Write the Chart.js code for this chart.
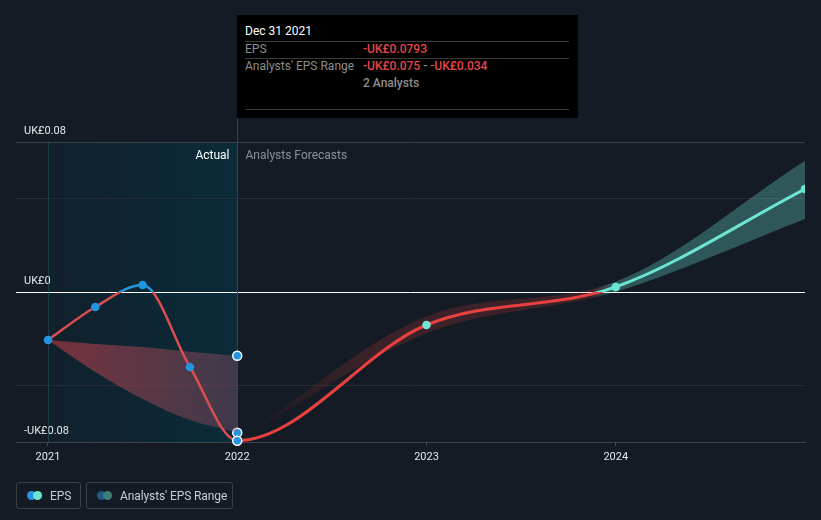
<!DOCTYPE html>
<html>
<head>
<meta charset="utf-8">
<script src="https://cdn.jsdelivr.net/npm/chart.js@4/dist/chart.umd.min.js"></script>
<style>
html,body{margin:0;padding:0;background:#151b24;}
#wrap{position:relative;width:821px;height:520px;overflow:hidden;font-family:Roboto,"Noto Sans",sans-serif;background:#151b24;}
#chart{position:absolute;left:0;top:0;}
#tip{position:absolute;left:237px;top:15px;width:341px;height:103px;background:#000;font-size:12px;line-height:14px;}
#tip .t{position:absolute;left:8px;white-space:nowrap;}
#tip .sep{position:absolute;left:8px;width:324px;height:1px;background:#3a3a3a;}
#tip .lab{color:#8e8e8e;}
#tip .val{color:#e5454c;font-weight:500;left:126px;}
#tip .gray{color:#8e8e8e;font-weight:500;left:126px;}
#legend{position:absolute;left:16px;top:482px;height:27px;display:flex;gap:5px;}
.lg{box-sizing:border-box;height:27px;border:1px solid #3a3f48;border-radius:3px;display:flex;align-items:center;padding:0 0 0 10px;color:#c9cdd3;font-size:12px;white-space:nowrap;letter-spacing:-0.1px;}
.dots{position:relative;flex:none;width:15px;height:9px;margin-right:8px;}
.dots span{position:absolute;top:0;width:9px;height:9px;border-radius:50%;}
</style>
</head>
<body>
<div id="wrap">
<canvas id="chart" width="821" height="520"></canvas>
<div id="tip">
  <div class="t" style="top:9px;color:#fff;">Dec 31 2021</div>
  <div class="sep" style="top:26px;"></div>
  <div class="t lab" style="top:27px;">EPS</div>
  <div class="t val" id="tipEps" style="top:27px;"></div>
  <div class="sep" style="top:43px;"></div>
  <div class="t lab" style="top:44px;">Analysts' EPS Range</div>
  <div class="t val" id="tipRange" style="top:44px;"></div>
  <div class="t gray" id="tipCount" style="top:61px;"></div>
  <div class="sep" style="top:94px;"></div>
</div>
<div id="legend">
  <div class="lg" style="width:65px;"><div class="dots"><span style="left:0;background:#2394df;"></span><span style="left:6px;background:#6ce5d3;"></span></div>EPS</div>
  <div class="lg" style="width:147px;"><div class="dots"><span style="left:0;background:#1d5b85;"></span><span style="left:6px;background:#3e7f78;"></span></div>Analysts' EPS Range</div>
</div>
</div>
<script>
// ---- data ----
const years = [2021, 2021.25, 2021.5, 2021.75, 2022, 2023, 2024, 2025];
const epsValues = [-0.0256, -0.008, 0.0037, -0.040, -0.0793, -0.0176, 0.0027, 0.0549];
const forecastYears = [2022, 2023, 2024, 2025];
const forecastHigh = [-0.0793, -0.013, 0.0055, 0.070];
const forecastLow = [-0.0793, -0.022, 0.0002, 0.039];
const pastRangeYears = [2021, 2021.25, 2021.5, 2021.75, 2022];
const pastRangeHigh = [-0.0256, -0.0277, -0.0293, -0.0318, -0.034];
const pastRangeLow = [-0.0256, -0.0427, -0.0571, -0.0683, -0.075];
const xTickYears = [2021, 2022, 2023, 2024];
const yGridValues = [-0.08, -0.05, 0, 0.05, 0.08];
const yLabelValues = [-0.08, 0, 0.08];
const lastActualYear = 2022;
const tooltipEps = -0.0793;
const tooltipRange = [-0.075, -0.034];
const analystCount = 2;

// ---- tooltip text ----
const fmtMoney = (v, d) => (v < 0 ? '-' : '') + 'UK£' + Math.abs(v).toFixed(d);
document.getElementById('tipEps').textContent = fmtMoney(tooltipEps, 4);
document.getElementById('tipRange').innerHTML = fmtMoney(tooltipRange[0], 3) + ' <span style="color:#8e8e8e">-</span> ' + fmtMoney(tooltipRange[1], 3);
document.getElementById('tipCount').textContent = analystCount + ' Analysts';

const BLUE = '#2394df', TEAL = '#6ce5d3', RED_H = '#d94e50', RED_F = '#e8413f';
const toPts = (xs, ys) => xs.map((x, i) => ({x: x, y: ys[i]}));
const fmtAxis = v => Math.abs(v) < 1e-9 ? 'UK£0' : (v < 0 ? '-' : '') + 'UK£' + Math.abs(v).toFixed(2);

function splitGradient(chart, above, below) {
  const {ctx, chartArea, scales} = chart;
  if (!chartArea || !scales.y) return below;
  const y0 = scales.y.getPixelForValue(0);
  let f = (y0 - chartArea.top) / (chartArea.bottom - chartArea.top);
  f = Math.min(1, Math.max(0, f));
  const g = ctx.createLinearGradient(0, chartArea.top, 0, chartArea.bottom);
  g.addColorStop(0, above); g.addColorStop(f, above);
  g.addColorStop(f, below); g.addColorStop(1, below);
  return g;
}
function bandGradient(chart) {
  const {ctx, chartArea, scales} = chart;
  if (!chartArea || !scales.x) return 'rgba(232,65,62,0.18)';
  const x = scales.x;
  const x0 = x.getPixelForValue(forecastYears[0]), x1 = x.getPixelForValue(forecastYears[forecastYears.length - 1]);
  const f = v => Math.min(1, Math.max(0, (x.getPixelForValue(v) - x0) / (x1 - x0)));
  const g = ctx.createLinearGradient(x0, 0, x1, 0);
  g.addColorStop(0, 'rgba(232,65,62,0)');
  g.addColorStop(f(2022.7), 'rgba(232,65,62,0.19)');
  g.addColorStop(f(2023.86), 'rgba(232,65,62,0.19)');
  g.addColorStop(f(2023.97), 'rgba(108,229,211,0.3)');
  g.addColorStop(1, 'rgba(108,229,211,0.3)');
  return g;
}
function pastGradient(chart) {
  const {ctx, chartArea, scales} = chart;
  if (!chartArea || !scales.x) return 'rgba(200,70,80,0.45)';
  const x0 = scales.x.getPixelForValue(pastRangeYears[0]);
  const x1 = scales.x.getPixelForValue(pastRangeYears[pastRangeYears.length - 1]);
  const g = ctx.createLinearGradient(x0, 0, x1, 0);
  g.addColorStop(0, 'rgba(205,62,70,0.55)');
  g.addColorStop(1, 'rgba(200,95,120,0.28)');
  return g;
}

const decor = {
  id: 'decor',
  beforeDraw(chart) {
    const {ctx, chartArea: a, scales: {x}} = chart;
    const xa = x.getPixelForValue(xTickYears[0]), xb = x.getPixelForValue(lastActualYear);
    const g = ctx.createLinearGradient(xa, 0, xb, 0);
    g.addColorStop(0, 'rgba(0,60,80,0.18)');
    g.addColorStop(1, 'rgba(0,60,80,0.5)');
    ctx.save();
    ctx.fillStyle = g;
    ctx.fillRect(xa, a.top, xb - xa, a.bottom - a.top);
    ctx.restore();
  },
  beforeDatasetsDraw(chart) {
    const {ctx, chartArea: a, scales: {x}} = chart;
    const xa = Math.round(x.getPixelForValue(xTickYears[0])) + 0.5;
    const xb = Math.round(x.getPixelForValue(lastActualYear)) + 0.5;
    ctx.save();
    ctx.lineWidth = 1;
    ctx.strokeStyle = 'rgba(45,95,115,0.45)';
    ctx.beginPath(); ctx.moveTo(xa, a.top); ctx.lineTo(xa, a.bottom); ctx.stroke();
    ctx.strokeStyle = '#2b4954';
    ctx.beginPath(); ctx.moveTo(xb, 118); ctx.lineTo(xb, a.bottom); ctx.stroke();
    ctx.font = '12px Roboto, "Noto Sans", sans-serif';
    ctx.textBaseline = 'middle';
    ctx.textAlign = 'right';
    ctx.fillStyle = '#ffffff';
    ctx.fillText('Actual', xb - 8, a.top + 13.5);
    ctx.textAlign = 'left';
    ctx.fillStyle = '#8b9099';
    ctx.fillText('Analysts Forecasts', xb + 8, a.top + 13.5);
    ctx.restore();
  }
};

const isLast = x => Math.abs(x - lastActualYear) < 1e-9;

new Chart(document.getElementById('chart'), {
  type: 'line',
  data: {
    datasets: [
      {
        label: 'EPS',
        data: toPts(years, epsValues),
        order: 0,
        cubicInterpolationMode: 'monotone',
        fill: false,
        borderColor: RED_F,
        borderWidth: 3,
        segment: {
          borderColor: c => c.p0.parsed.x < lastActualYear ? splitGradient(c.chart, BLUE, RED_H) : splitGradient(c.chart, TEAL, RED_F),
          borderWidth: c => c.p0.parsed.x < lastActualYear ? 2.5 : 3
        },
        pointRadius: c => isLast(c.raw.x) ? 4.5 : 4.3,
        pointBackgroundColor: c => c.raw.x <= lastActualYear ? BLUE : TEAL,
        pointBorderColor: c => isLast(c.raw.x) ? '#ffffff' : (c.raw.x <= lastActualYear ? BLUE : TEAL),
        pointBorderWidth: c => isLast(c.raw.x) ? 1.5 : 0,
        clip: {left: 0, top: 0, right: 0, bottom: 12}
      },
      {
        label: 'Forecast high',
        data: toPts(forecastYears, forecastHigh),
        order: 2,
        cubicInterpolationMode: 'monotone',
        borderWidth: 0,
        borderColor: 'rgba(0,0,0,0)',
        pointRadius: 0,
        fill: '+1',
        backgroundColor: c => bandGradient(c.chart),
        clip: 0
      },
      {
        label: 'Forecast low',
        data: toPts(forecastYears, forecastLow),
        order: 2,
        cubicInterpolationMode: 'monotone',
        borderWidth: 0,
        borderColor: 'rgba(0,0,0,0)',
        pointRadius: 0,
        fill: false,
        clip: 0
      },
      {
        label: 'Past range high',
        data: toPts(pastRangeYears, pastRangeHigh),
        order: 1,
        cubicInterpolationMode: 'monotone',
        borderWidth: 0,
        borderColor: 'rgba(0,0,0,0)',
        fill: '+1',
        backgroundColor: c => pastGradient(c.chart),
        pointRadius: c => isLast(c.raw.x) ? 4.5 : 0,
        pointBackgroundColor: BLUE,
        pointBorderColor: '#ffffff',
        pointBorderWidth: 1.5,
        clip: {left: 0, top: 0, right: 0, bottom: 12}
      },
      {
        label: 'Past range low',
        data: toPts(pastRangeYears, pastRangeLow),
        order: 1,
        cubicInterpolationMode: 'monotone',
        borderWidth: 0,
        borderColor: 'rgba(0,0,0,0)',
        fill: false,
        pointRadius: c => isLast(c.raw.x) ? 4.5 : 0,
        pointBackgroundColor: BLUE,
        pointBorderColor: '#ffffff',
        pointBorderWidth: 1.5,
        clip: {left: 0, top: 0, right: 0, bottom: 12}
      }
    ]
  },
  options: {
    responsive: false,
    devicePixelRatio: 1,
    animation: false,
    events: [],
    layout: {padding: {left: 16, right: 16, top: 142, bottom: 0}},
    plugins: {legend: {display: false}, tooltip: {enabled: false}},
    scales: {
      x: {
        type: 'linear',
        min: 2020.831,
        max: 2025,
        afterBuildTicks: s => { s.ticks = xTickYears.map(v => ({value: v})); },
        afterFit: s => { s.height = 78; },
        grid: {drawOnChartArea: false, drawTicks: true, tickLength: 4, color: '#454b55'},
        border: {display: true, color: '#3d434d'},
        ticks: {color: '#e4e6e9', font: {family: 'Roboto', size: 11}, padding: 5, maxRotation: 0, autoSkip: false, callback: v => String(v)}
      },
      y: {
        min: -0.08,
        max: 0.08,
        afterBuildTicks: s => { s.ticks = yGridValues.map(v => ({value: v})); },
        afterFit: s => { s.width = 0; },
        grid: {
          drawTicks: false,
          lineWidth: 1,
          color: c => {
            const v = c.tick ? c.tick.value : 1;
            if (Math.abs(v) < 1e-9) return '#ffffff';
            if (Math.abs(v - 0.08) < 1e-9) return '#3a404a';
            return '#262c36';
          }
        },
        border: {display: false},
        ticks: {
          mirror: true,
          padding: 8,
          labelOffset: -11,
          color: '#e8e9eb',
          font: {family: 'Roboto', size: 11},
          callback: v => yLabelValues.some(l => Math.abs(l - v) < 1e-9) ? fmtAxis(v) : ''
        }
      }
    }
  },
  plugins: [decor]
});
</script>
</body>
</html>
